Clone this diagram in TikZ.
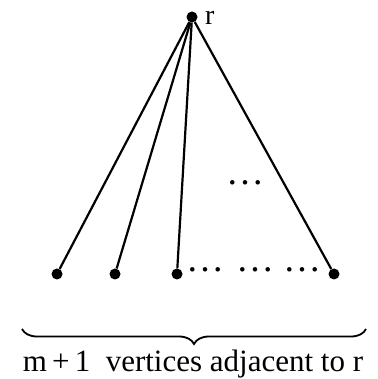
\documentclass[tikz,border=0pt]{standalone}
\usepackage{fontspec}
\setmainfont{Liberation Serif}
\usetikzlibrary{positioning,decorations.pathreplacing}
\tikzset{
  edge/.style={line width=2.2pt},
  vertex/.style={fill=black, circle, inner sep=0pt, minimum size=11pt},
  dotsbox/.style={inner sep=0pt, font=\fontsize{38}{38}\selectfont},
  labelR/.style={font=\fontsize{31}{31}\selectfont},
  rootlab/.style={font=\fontsize{28}{28}\selectfont, inner sep=0pt},
  bracket/.style={line width=1.8pt, decorate, decoration={brace, mirror, amplitude=15pt}}
}
\def\Ybot{105}

\begin{document}
\begin{tikzpicture}[x=1pt,y=1pt]
  \useasboundingbox (0,0) rectangle (377,379);

  % =======================
  % Root and its neighbours
  % =======================
  \node[vertex] (r) at (192,362) {};
  \node[rootlab, anchor=base west] (rlab) at ([xshift=13pt,yshift=-8pt]r.center) {r};

  \node[vertex] (v1) at (57,\Ybot) {};
  \node[vertex] (v2) at (115,\Ybot) {};
  \node[vertex] (v3) at (177,\Ybot) {};
  \node[vertex] (v4) at (334,\Ybot) {};

  \foreach \v in {v1,v2,v3,v4}
    \draw[edge] (r) -- (\v);

  % =======================
  % Dots
  % =======================
  \node[dotsbox] (dm) at (245,196) {\dots};
  \node[dotsbox] (d1) at (205,\Ybot+4) {\dots};
  \node[dotsbox] (d2) at (255,\Ybot+4) {\dots};
  \node[dotsbox] (d3) at (302,\Ybot+4) {\dots};

  % =======================
  % Brace and caption
  % =======================
  \coordinate (bl) at (22,50);
  \coordinate (br) at (366,50);
  \draw[bracket] (bl) -- (br);
  \node[labelR, anchor=base] (cap) at (193,7) {m\,+\,1\enspace vertices adjacent to r};

\end{tikzpicture}
\end{document}
